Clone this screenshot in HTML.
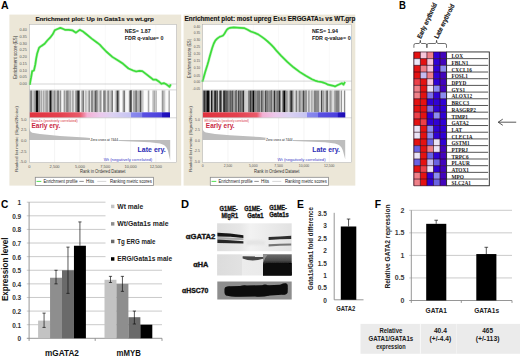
<!DOCTYPE html>
<html><head><meta charset="utf-8"><style>
html,body{margin:0;padding:0;background:#fff;}
body{width:520px;height:357px;overflow:hidden;font-family:"Liberation Sans",sans-serif;}
svg{display:block;}
</style></head><body>
<svg width="520" height="357" viewBox="0 0 520 357">
<rect x="0" y="0" width="520" height="357" fill="#fff"/>
<text x="0.9" y="8.9" font-family="Liberation Sans" font-size="10.5" font-weight="bold" fill="#000" text-anchor="start" textLength="7.6" lengthAdjust="spacingAndGlyphs" >A</text>
<text x="399.1" y="8.8" font-family="Liberation Sans" font-size="11.0" font-weight="bold" fill="#000" text-anchor="start" textLength="6.9" lengthAdjust="spacingAndGlyphs" >B</text>
<text x="0.9" y="208.0" font-family="Liberation Sans" font-size="11.4" font-weight="bold" fill="#000" text-anchor="start" textLength="7.3" lengthAdjust="spacingAndGlyphs" >C</text>
<text x="181.1" y="208.1" font-family="Liberation Sans" font-size="11.5" font-weight="bold" fill="#000" text-anchor="start" textLength="8.0" lengthAdjust="spacingAndGlyphs" >D</text>
<text x="297.0" y="207.7" font-family="Liberation Sans" font-size="10.6" font-weight="bold" fill="#000" text-anchor="start" textLength="6.9" lengthAdjust="spacingAndGlyphs" >E</text>
<text x="374.8" y="207.6" font-family="Liberation Sans" font-size="10.6" font-weight="bold" fill="#000" text-anchor="start" textLength="6.3" lengthAdjust="spacingAndGlyphs" >F</text>
<rect x="9.4" y="14.6" width="171.79999999999998" height="171.0" fill="#ece7d8" />
<text x="35.4" y="21.2" font-family="Liberation Sans" font-size="6.25" font-weight="bold" fill="#111" stroke="#111" stroke-width="0.12" textLength="118.4" lengthAdjust="spacingAndGlyphs">Enrichment plot: Up in Gata1s vs wt.grp</text>
<rect x="29.3" y="24.3" width="147.2" height="138.29999999999998" fill="#ffffff" />
<line x1="54.6" y1="24.3" x2="54.6" y2="89.5" stroke="#f3f3f3" stroke-width="0.6" />
<line x1="54.6" y1="117.8" x2="54.6" y2="162.6" stroke="#ededed" stroke-width="0.6" />
<line x1="80.0" y1="24.3" x2="80.0" y2="89.5" stroke="#f3f3f3" stroke-width="0.6" />
<line x1="80.0" y1="117.8" x2="80.0" y2="162.6" stroke="#ededed" stroke-width="0.6" />
<line x1="105.3" y1="24.3" x2="105.3" y2="89.5" stroke="#f3f3f3" stroke-width="0.6" />
<line x1="105.3" y1="117.8" x2="105.3" y2="162.6" stroke="#ededed" stroke-width="0.6" />
<line x1="130.6" y1="24.3" x2="130.6" y2="89.5" stroke="#f3f3f3" stroke-width="0.6" />
<line x1="130.6" y1="117.8" x2="130.6" y2="162.6" stroke="#ededed" stroke-width="0.6" />
<line x1="155.9" y1="24.3" x2="155.9" y2="89.5" stroke="#f3f3f3" stroke-width="0.6" />
<line x1="155.9" y1="117.8" x2="155.9" y2="162.6" stroke="#ededed" stroke-width="0.6" />
<line x1="29.3" y1="84.0" x2="176.5" y2="84.0" stroke="#bbbbbb" stroke-width="0.6" />
<text x="26.8" y="31.1" font-family="Liberation Sans" font-size="3.8" font-weight="normal" fill="#555" text-anchor="end" >0.40</text>
<text x="26.8" y="37.9" font-family="Liberation Sans" font-size="3.8" font-weight="normal" fill="#555" text-anchor="end" >0.35</text>
<text x="26.8" y="44.699999999999996" font-family="Liberation Sans" font-size="3.8" font-weight="normal" fill="#555" text-anchor="end" >0.30</text>
<text x="26.8" y="51.4" font-family="Liberation Sans" font-size="3.8" font-weight="normal" fill="#555" text-anchor="end" >0.25</text>
<text x="26.8" y="58.199999999999996" font-family="Liberation Sans" font-size="3.8" font-weight="normal" fill="#555" text-anchor="end" >0.20</text>
<text x="26.8" y="64.9" font-family="Liberation Sans" font-size="3.8" font-weight="normal" fill="#555" text-anchor="end" >0.15</text>
<text x="26.8" y="71.7" font-family="Liberation Sans" font-size="3.8" font-weight="normal" fill="#555" text-anchor="end" >0.10</text>
<text x="26.8" y="78.39999999999999" font-family="Liberation Sans" font-size="3.8" font-weight="normal" fill="#555" text-anchor="end" >0.05</text>
<text x="26.8" y="85.2" font-family="Liberation Sans" font-size="3.8" font-weight="normal" fill="#555" text-anchor="end" >0.00</text>
<line x1="29.3" y1="89.9" x2="176.5" y2="89.9" stroke="#b0b0b0" stroke-width="0.5" />
<rect x="29.39" y="90.5" width="0.75" height="21.799999999999997" fill="rgb(200,200,200)" />
<rect x="30.08" y="90.5" width="1.1" height="21.799999999999997" fill="rgb(130,130,130)" />
<rect x="31.12" y="90.5" width="1.1" height="21.799999999999997" fill="rgb(110,110,110)" />
<rect x="32.16" y="90.5" width="1.45" height="21.799999999999997" fill="rgb(200,200,200)" />
<rect x="33.54" y="90.5" width="1.45" height="21.799999999999997" fill="rgb(160,160,160)" />
<rect x="34.93" y="90.5" width="0.75" height="21.799999999999997" fill="rgb(200,200,200)" />
<rect x="35.62" y="90.5" width="2.48" height="21.799999999999997" fill="rgb(12,12,12)" />
<rect x="38.04" y="90.5" width="0.75" height="21.799999999999997" fill="rgb(120,120,120)" />
<rect x="38.73" y="90.5" width="1.1" height="21.799999999999997" fill="rgb(90,90,90)" />
<rect x="39.77" y="90.5" width="1.1" height="21.799999999999997" fill="rgb(200,200,200)" />
<rect x="40.81" y="90.5" width="1.1" height="21.799999999999997" fill="rgb(150,150,150)" />
<rect x="41.85" y="90.5" width="1.1" height="21.799999999999997" fill="rgb(220,220,220)" />
<rect x="42.89" y="90.5" width="1.45" height="21.799999999999997" fill="rgb(170,170,170)" />
<rect x="44.27" y="90.5" width="1.1" height="21.799999999999997" fill="rgb(190,190,190)" />
<rect x="45.31" y="90.5" width="1.45" height="21.799999999999997" fill="rgb(160,160,160)" />
<rect x="46.7" y="90.5" width="1.1" height="21.799999999999997" fill="rgb(110,110,110)" />
<rect x="47.74" y="90.5" width="1.1" height="21.799999999999997" fill="rgb(220,220,220)" />
<rect x="48.78" y="90.5" width="1.1" height="21.799999999999997" fill="rgb(130,130,130)" />
<rect x="49.81" y="90.5" width="1.79" height="21.799999999999997" fill="rgb(20,20,20)" />
<rect x="51.55" y="90.5" width="1.1" height="21.799999999999997" fill="rgb(100,100,100)" />
<rect x="52.58" y="90.5" width="1.1" height="21.799999999999997" fill="rgb(210,210,210)" />
<rect x="53.62" y="90.5" width="1.1" height="21.799999999999997" fill="rgb(100,100,100)" />
<rect x="54.66" y="90.5" width="1.1" height="21.799999999999997" fill="rgb(140,140,140)" />
<rect x="55.7" y="90.5" width="1.1" height="21.799999999999997" fill="rgb(210,210,210)" />
<rect x="56.74" y="90.5" width="1.1" height="21.799999999999997" fill="rgb(120,120,120)" />
<rect x="57.78" y="90.5" width="1.1" height="21.799999999999997" fill="rgb(90,90,90)" />
<rect x="58.82" y="90.5" width="1.1" height="21.799999999999997" fill="rgb(200,200,200)" />
<rect x="59.86" y="90.5" width="1.1" height="21.799999999999997" fill="rgb(130,130,130)" />
<rect x="60.89" y="90.5" width="1.1" height="21.799999999999997" fill="rgb(220,220,220)" />
<rect x="61.93" y="90.5" width="2.14" height="21.799999999999997" fill="rgb(245,245,245)" />
<rect x="63.73" y="90.5" width="1.1" height="21.799999999999997" fill="rgb(120,120,120)" />
<rect x="64.77" y="90.5" width="1.1" height="21.799999999999997" fill="rgb(200,200,200)" />
<rect x="65.81" y="90.5" width="1.45" height="21.799999999999997" fill="rgb(140,140,140)" />
<rect x="67.19" y="90.5" width="1.45" height="21.799999999999997" fill="rgb(110,110,110)" />
<rect x="68.58" y="90.5" width="1.1" height="21.799999999999997" fill="rgb(150,150,150)" />
<rect x="69.62" y="90.5" width="1.45" height="21.799999999999997" fill="rgb(170,170,170)" />
<rect x="71.0" y="90.5" width="1.1" height="21.799999999999997" fill="rgb(220,220,220)" />
<rect x="72.04" y="90.5" width="1.1" height="21.799999999999997" fill="rgb(170,170,170)" />
<rect x="73.08" y="90.5" width="1.1" height="21.799999999999997" fill="rgb(180,180,180)" />
<rect x="74.12" y="90.5" width="1.1" height="21.799999999999997" fill="rgb(230,230,230)" />
<rect x="75.16" y="90.5" width="1.1" height="21.799999999999997" fill="rgb(150,150,150)" />
<rect x="76.2" y="90.5" width="1.1" height="21.799999999999997" fill="rgb(120,120,120)" />
<rect x="77.24" y="90.5" width="2.14" height="21.799999999999997" fill="rgb(40,40,40)" />
<rect x="79.31" y="90.5" width="0.89" height="21.799999999999997" fill="rgb(90,90,90)" />
<rect x="80.14" y="90.5" width="1.31" height="21.799999999999997" fill="rgb(240,240,240)" />
<rect x="81.39" y="90.5" width="1.45" height="21.799999999999997" fill="rgb(150,150,150)" />
<rect x="82.78" y="90.5" width="1.45" height="21.799999999999997" fill="rgb(120,120,120)" />
<rect x="84.16" y="90.5" width="1.1" height="21.799999999999997" fill="rgb(230,230,230)" />
<rect x="85.2" y="90.5" width="0.75" height="21.799999999999997" fill="rgb(170,170,170)" />
<rect x="85.89" y="90.5" width="1.1" height="21.799999999999997" fill="rgb(200,200,200)" />
<rect x="86.93" y="90.5" width="1.45" height="21.799999999999997" fill="rgb(220,220,220)" />
<rect x="88.32" y="90.5" width="1.1" height="21.799999999999997" fill="rgb(150,150,150)" />
<rect x="89.35" y="90.5" width="1.1" height="21.799999999999997" fill="rgb(110,110,110)" />
<rect x="90.39" y="90.5" width="1.1" height="21.799999999999997" fill="rgb(240,240,240)" />
<rect x="91.43" y="90.5" width="1.1" height="21.799999999999997" fill="rgb(60,60,60)" />
<rect x="92.47" y="90.5" width="1.1" height="21.799999999999997" fill="rgb(130,130,130)" />
<rect x="93.51" y="90.5" width="1.1" height="21.799999999999997" fill="rgb(200,200,200)" />
<rect x="94.55" y="90.5" width="1.45" height="21.799999999999997" fill="rgb(90,90,90)" />
<rect x="95.93" y="90.5" width="1.1" height="21.799999999999997" fill="rgb(110,110,110)" />
<rect x="96.97" y="90.5" width="1.1" height="21.799999999999997" fill="rgb(170,170,170)" />
<rect x="96.0" y="90.5" width="1.1" height="21.799999999999997" fill="rgb(130,130,130)" />
<rect x="97.04" y="90.5" width="1.45" height="21.799999999999997" fill="rgb(160,160,160)" />
<rect x="98.42" y="90.5" width="1.1" height="21.799999999999997" fill="rgb(210,210,210)" />
<rect x="99.46" y="90.5" width="1.1" height="21.799999999999997" fill="rgb(150,150,150)" />
<rect x="100.5" y="90.5" width="1.1" height="21.799999999999997" fill="rgb(100,100,100)" />
<rect x="101.54" y="90.5" width="1.1" height="21.799999999999997" fill="rgb(230,230,230)" />
<rect x="102.58" y="90.5" width="0.75" height="21.799999999999997" fill="rgb(250,250,250)" />
<rect x="103.27" y="90.5" width="1.45" height="21.799999999999997" fill="rgb(110,110,110)" />
<rect x="104.66" y="90.5" width="1.1" height="21.799999999999997" fill="rgb(90,90,90)" />
<rect x="105.7" y="90.5" width="1.45" height="21.799999999999997" fill="rgb(220,220,220)" />
<rect x="107.08" y="90.5" width="1.1" height="21.799999999999997" fill="rgb(160,160,160)" />
<rect x="108.12" y="90.5" width="1.45" height="21.799999999999997" fill="rgb(130,130,130)" />
<rect x="109.5" y="90.5" width="1.1" height="21.799999999999997" fill="rgb(220,220,220)" />
<rect x="110.54" y="90.5" width="1.1" height="21.799999999999997" fill="rgb(150,150,150)" />
<rect x="111.58" y="90.5" width="1.45" height="21.799999999999997" fill="rgb(120,120,120)" />
<rect x="112.97" y="90.5" width="1.79" height="21.799999999999997" fill="rgb(245,245,245)" />
<rect x="114.7" y="90.5" width="1.1" height="21.799999999999997" fill="rgb(210,210,210)" />
<rect x="115.74" y="90.5" width="1.1" height="21.799999999999997" fill="rgb(160,160,160)" />
<rect x="116.78" y="90.5" width="1.45" height="21.799999999999997" fill="rgb(60,60,60)" />
<rect x="118.16" y="90.5" width="1.45" height="21.799999999999997" fill="rgb(110,110,110)" />
<rect x="119.55" y="90.5" width="3.18" height="21.799999999999997" fill="rgb(250,250,250)" />
<rect x="122.66" y="90.5" width="1.1" height="21.799999999999997" fill="rgb(140,140,140)" />
<rect x="123.7" y="90.5" width="1.45" height="21.799999999999997" fill="rgb(120,120,120)" />
<rect x="125.09" y="90.5" width="1.45" height="21.799999999999997" fill="rgb(230,230,230)" />
<rect x="126.47" y="90.5" width="1.45" height="21.799999999999997" fill="rgb(250,250,250)" />
<rect x="127.86" y="90.5" width="1.45" height="21.799999999999997" fill="rgb(230,230,230)" />
<rect x="129.24" y="90.5" width="1.45" height="21.799999999999997" fill="rgb(110,110,110)" />
<rect x="130.63" y="90.5" width="1.45" height="21.799999999999997" fill="rgb(60,60,60)" />
<rect x="130.0" y="90.5" width="1.33" height="21.799999999999997" fill="rgb(70,70,70)" />
<rect x="131.27" y="90.5" width="0.91" height="21.799999999999997" fill="rgb(120,120,120)" />
<rect x="132.12" y="90.5" width="0.91" height="21.799999999999997" fill="rgb(230,230,230)" />
<rect x="132.96" y="90.5" width="2.6" height="21.799999999999997" fill="rgb(170,170,170)" />
<rect x="135.5" y="90.5" width="1.33" height="21.799999999999997" fill="rgb(70,70,70)" />
<rect x="136.77" y="90.5" width="3.02" height="21.799999999999997" fill="rgb(180,180,180)" />
<rect x="139.73" y="90.5" width="1.33" height="21.799999999999997" fill="rgb(80,80,80)" />
<rect x="141.0" y="90.5" width="1.75" height="21.799999999999997" fill="rgb(170,170,170)" />
<rect x="142.69" y="90.5" width="1.33" height="21.799999999999997" fill="rgb(220,220,220)" />
<rect x="143.96" y="90.5" width="3.87" height="21.799999999999997" fill="rgb(252,252,252)" />
<rect x="147.77" y="90.5" width="1.33" height="21.799999999999997" fill="rgb(170,170,170)" />
<rect x="149.04" y="90.5" width="0.91" height="21.799999999999997" fill="rgb(220,220,220)" />
<rect x="149.88" y="90.5" width="2.6" height="21.799999999999997" fill="rgb(252,252,252)" />
<rect x="152.42" y="90.5" width="1.33" height="21.799999999999997" fill="rgb(180,180,180)" />
<rect x="153.69" y="90.5" width="1.75" height="21.799999999999997" fill="rgb(170,170,170)" />
<rect x="155.38" y="90.5" width="1.75" height="21.799999999999997" fill="rgb(190,190,190)" />
<rect x="157.07" y="90.5" width="4.71" height="21.799999999999997" fill="rgb(252,252,252)" />
<rect x="161.73" y="90.5" width="1.33" height="21.799999999999997" fill="rgb(150,150,150)" />
<rect x="162.99" y="90.5" width="1.75" height="21.799999999999997" fill="rgb(180,180,180)" />
<rect x="164.69" y="90.5" width="0.91" height="21.799999999999997" fill="rgb(200,200,200)" />
<rect x="165.53" y="90.5" width="3.02" height="21.799999999999997" fill="rgb(250,250,250)" />
<rect x="168.49" y="90.5" width="1.33" height="21.799999999999997" fill="rgb(160,160,160)" />
<defs><linearGradient id="g9" x1="0" x2="1" y1="0" y2="0"><stop offset="0" stop-color="#e0323e"/><stop offset="0.216" stop-color="#e4404e"/><stop offset="0.358" stop-color="#ea5a6a"/><stop offset="0.39" stop-color="#f08aa8"/><stop offset="0.41" stop-color="#f4b0d4"/><stop offset="0.5" stop-color="#ecc8ec"/><stop offset="0.59" stop-color="#dcd2f2"/><stop offset="0.72" stop-color="#c6c4f2"/><stop offset="0.725" stop-color="#8a88ee"/><stop offset="0.8" stop-color="#8080ea"/><stop offset="0.805" stop-color="#5a50e2"/><stop offset="0.94" stop-color="#4c40dc"/><stop offset="0.945" stop-color="#2414c2"/><stop offset="1" stop-color="#1c0cb4"/></linearGradient></defs>
<rect x="29.6" y="112.3" width="140.4" height="5.299999999999997" fill="url(#g9)" />
<line x1="29.3" y1="117.8" x2="176.5" y2="117.8" stroke="#b0b0b0" stroke-width="0.5" />
<path d="M29.8,84.8 L30.4,81.0 L31.1,77.5 L32.2,71.0 L33.2,70.8 L34.0,70.4 L35.3,64.5 L36.2,58.5 L37.2,53.4 L39.0,47.9 L40.4,46.6 L41.8,45.7 L44.6,43.8 L47.3,40.5 L50.1,37.7 L52.9,34.0 L54.7,30.3 L57.5,29.0 L60.3,27.9 L62.1,28.5 L64.9,29.8 L68.6,29.8 L72.3,30.3 L76.0,32.7 L79.7,29.8 L82.5,31.2 L86.1,34.0 L91.7,38.6 L97.2,42.7 L100.0,44.9 L103.0,48.2 L106.2,51.5 L112.3,56.9 L118.5,60.8 L123.1,63.8 L128.5,68.5 L133.1,70.5 L136.2,71.5 L139.2,70.8 L142.3,71.1 L146.2,74.2 L150.8,77.7 L153.1,79.7 L156.2,79.7 L159.2,81.8 L161.5,83.8 L163.8,83.1 L166.2,84.3 L167.7,85.4 L169.5,86.9 L170.8,84.3" fill="none" stroke="#b4f0b0" stroke-width="2.9" stroke-linejoin="round" opacity="0.7"/>
<path d="M29.8,84.8 L30.4,81.0 L31.1,77.5 L32.2,71.0 L33.2,70.8 L34.0,70.4 L35.3,64.5 L36.2,58.5 L37.2,53.4 L39.0,47.9 L40.4,46.6 L41.8,45.7 L44.6,43.8 L47.3,40.5 L50.1,37.7 L52.9,34.0 L54.7,30.3 L57.5,29.0 L60.3,27.9 L62.1,28.5 L64.9,29.8 L68.6,29.8 L72.3,30.3 L76.0,32.7 L79.7,29.8 L82.5,31.2 L86.1,34.0 L91.7,38.6 L97.2,42.7 L100.0,44.9 L103.0,48.2 L106.2,51.5 L112.3,56.9 L118.5,60.8 L123.1,63.8 L128.5,68.5 L133.1,70.5 L136.2,71.5 L139.2,70.8 L142.3,71.1 L146.2,74.2 L150.8,77.7 L153.1,79.7 L156.2,79.7 L159.2,81.8 L161.5,83.8 L163.8,83.1 L166.2,84.3 L167.7,85.4 L169.5,86.9 L170.8,84.3" fill="none" stroke="#3ddc3a" stroke-width="1.7" stroke-linejoin="round"/>
<text x="124.8" y="33.0" font-family="Liberation Sans" font-size="5.3" font-weight="bold" fill="#151515" text-anchor="start" textLength="26.0" lengthAdjust="spacingAndGlyphs" >NES= 1.87</text>
<text x="124.8" y="39.9" font-family="Liberation Sans" font-size="5.3" font-weight="bold" fill="#151515" text-anchor="start" textLength="38.6" lengthAdjust="spacingAndGlyphs" >FDR q-value= 0</text>
<path d="M29.3,127.6 C29.8,131 30.6,132.2 32.2,132.8 L40,134.1 L60,135.9 L85,137.4 L95,138.4 L104,139.9 L29.3,139.9 Z" fill="#bdbdbd"/>
<path d="M104,139.9 L120,141.0 L150,142.2 L160,143.6 C164,144.6 166.5,146 168,151 L170.2,160.3 L170.2,139.9 Z" fill="#bdbdbd"/>
<text x="31.1" y="121.7" font-family="Liberation Sans" font-size="3.5" font-weight="normal" fill="#d83040" text-anchor="start" textLength="46.5" lengthAdjust="spacingAndGlyphs" >Gata1s (positively correlated)</text>
<text x="31.5" y="128.0" font-family="Liberation Sans" font-size="7.4" font-weight="bold" fill="#c9283f" text-anchor="start" textLength="28.8" lengthAdjust="spacingAndGlyphs" >Early ery.</text>
<text x="137.6" y="152.2" font-family="Liberation Sans" font-size="7.4" font-weight="bold" fill="#2a2ab4" text-anchor="start" textLength="28.2" lengthAdjust="spacingAndGlyphs" >Late ery.</text>
<text x="103.8" y="160.8" font-family="Liberation Sans" font-size="3.5" font-weight="normal" fill="#3a3ac8" text-anchor="start" textLength="48.5" lengthAdjust="spacingAndGlyphs" >Wt (negatively correlated)</text>
<rect x="90.0" y="137.6" width="28.5" height="4.2" fill="#ffffff" />
<text x="90.5" y="141.1" font-family="Liberation Sans" font-size="3.4" font-weight="normal" fill="#222" text-anchor="start" textLength="27.5" lengthAdjust="spacingAndGlyphs" >Zero cross at 7444</text>
<text x="26.5" y="120.84" font-family="Liberation Sans" font-size="4.0" font-weight="normal" fill="#555" text-anchor="end" >5.0</text>
<text x="26.5" y="131.44" font-family="Liberation Sans" font-size="4.0" font-weight="normal" fill="#555" text-anchor="end" >2.5</text>
<text x="26.5" y="142.14" font-family="Liberation Sans" font-size="4.0" font-weight="normal" fill="#555" text-anchor="end" >0.0</text>
<text x="26.5" y="152.64" font-family="Liberation Sans" font-size="4.0" font-weight="normal" fill="#555" text-anchor="end" >-2.5</text>
<text x="26.5" y="162.94" font-family="Liberation Sans" font-size="4.0" font-weight="normal" fill="#555" text-anchor="end" >-5.0</text>
<text x="29.3" y="167.60000000000002" font-family="Liberation Sans" font-size="4.0" font-weight="normal" fill="#555" text-anchor="middle" >0</text>
<text x="54.6" y="167.60000000000002" font-family="Liberation Sans" font-size="4.0" font-weight="normal" fill="#555" text-anchor="middle" >2,500</text>
<text x="80.0" y="167.60000000000002" font-family="Liberation Sans" font-size="4.0" font-weight="normal" fill="#555" text-anchor="middle" >5,000</text>
<text x="105.3" y="167.60000000000002" font-family="Liberation Sans" font-size="4.0" font-weight="normal" fill="#555" text-anchor="middle" >7,500</text>
<text x="130.6" y="167.60000000000002" font-family="Liberation Sans" font-size="4.0" font-weight="normal" fill="#555" text-anchor="middle" >10,000</text>
<text x="155.9" y="167.60000000000002" font-family="Liberation Sans" font-size="4.0" font-weight="normal" fill="#555" text-anchor="middle" >12,500</text>
<text x="80.0" y="173.4" font-family="Liberation Sans" font-size="4.9" font-weight="normal" fill="#333" text-anchor="start" textLength="45.5" lengthAdjust="spacingAndGlyphs" >Rank in Ordered Dataset</text>
<text transform="translate(17.1,57.4) rotate(-90)" font-family="Liberation Sans" font-size="4.5" font-weight="normal" fill="#3a3a3a" text-anchor="middle" textLength="42.9" lengthAdjust="spacingAndGlyphs">Enrichment score (ES)</text>
<text transform="translate(18.0,139) rotate(-90)" font-family="Liberation Sans" font-size="4.3" font-weight="normal" fill="#444" text-anchor="middle" textLength="66" lengthAdjust="spacingAndGlyphs">Ranked list metric (Signal2Noise)</text>
<rect x="29.3" y="24.3" width="147.2" height="138.29999999999998" fill="none" stroke="#aaaaaa" stroke-width="0.5"/>
<rect x="35.3" y="177.3" width="118.2" height="8.099999999999994" fill="#ffffff" stroke="#8a8a8a" stroke-width="0.8"/>
<line x1="36.5" y1="181.4" x2="41.3" y2="181.4" stroke="#3ede3e" stroke-width="0.9" />
<text x="43.5" y="183.2" font-family="Liberation Sans" font-size="5.0" font-weight="normal" fill="#222" text-anchor="start" textLength="34" lengthAdjust="spacingAndGlyphs" >Enrichment profile</text>
<line x1="79.3" y1="181.4" x2="83.8" y2="181.4" stroke="#222" stroke-width="0.5" />
<text x="86.1" y="183.2" font-family="Liberation Sans" font-size="5.0" font-weight="normal" fill="#222" text-anchor="start" textLength="8" lengthAdjust="spacingAndGlyphs" >Hits</text>
<line x1="97.3" y1="181.4" x2="106.3" y2="181.4" stroke="#d0d0d0" stroke-width="0.9" />
<text x="109.89999999999999" y="183.2" font-family="Liberation Sans" font-size="5.0" font-weight="normal" fill="#222" text-anchor="start" textLength="41.9" lengthAdjust="spacingAndGlyphs" >Ranking metric scores</text>
<rect x="183.6" y="14.6" width="171.70000000000002" height="171.0" fill="#ece7d8" />
<text x="184.6" y="20.65" font-family="Liberation Sans" font-size="6.6" font-weight="bold" fill="#111" stroke="#111" stroke-width="0.12" textLength="170.8" lengthAdjust="spacingAndGlyphs">Enrichment plot: most upreg E<tspan font-size="4.6">14.5</tspan> ERGGATA<tspan font-size="4.6">1s</tspan> vs WT.grp</text>
<rect x="202.6" y="24.3" width="149.00000000000003" height="138.29999999999998" fill="#ffffff" />
<line x1="228.0" y1="24.3" x2="228.0" y2="89.5" stroke="#f3f3f3" stroke-width="0.6" />
<line x1="228.0" y1="117.8" x2="228.0" y2="162.6" stroke="#ededed" stroke-width="0.6" />
<line x1="253.3" y1="24.3" x2="253.3" y2="89.5" stroke="#f3f3f3" stroke-width="0.6" />
<line x1="253.3" y1="117.8" x2="253.3" y2="162.6" stroke="#ededed" stroke-width="0.6" />
<line x1="278.6" y1="24.3" x2="278.6" y2="89.5" stroke="#f3f3f3" stroke-width="0.6" />
<line x1="278.6" y1="117.8" x2="278.6" y2="162.6" stroke="#ededed" stroke-width="0.6" />
<line x1="304.0" y1="24.3" x2="304.0" y2="89.5" stroke="#f3f3f3" stroke-width="0.6" />
<line x1="304.0" y1="117.8" x2="304.0" y2="162.6" stroke="#ededed" stroke-width="0.6" />
<line x1="329.3" y1="24.3" x2="329.3" y2="89.5" stroke="#f3f3f3" stroke-width="0.6" />
<line x1="329.3" y1="117.8" x2="329.3" y2="162.6" stroke="#ededed" stroke-width="0.6" />
<line x1="202.6" y1="81.1" x2="351.6" y2="81.1" stroke="#bbbbbb" stroke-width="0.6" />
<text x="200.1" y="27.6" font-family="Liberation Sans" font-size="3.3" font-weight="normal" fill="#555" text-anchor="end" >0.40</text>
<text x="200.1" y="34.3" font-family="Liberation Sans" font-size="3.3" font-weight="normal" fill="#555" text-anchor="end" >0.35</text>
<text x="200.1" y="41.3" font-family="Liberation Sans" font-size="3.3" font-weight="normal" fill="#555" text-anchor="end" >0.30</text>
<text x="200.1" y="48.3" font-family="Liberation Sans" font-size="3.3" font-weight="normal" fill="#555" text-anchor="end" >0.25</text>
<text x="200.1" y="55.0" font-family="Liberation Sans" font-size="3.3" font-weight="normal" fill="#555" text-anchor="end" >0.20</text>
<text x="200.1" y="62.3" font-family="Liberation Sans" font-size="3.3" font-weight="normal" fill="#555" text-anchor="end" >0.15</text>
<text x="200.1" y="69.3" font-family="Liberation Sans" font-size="3.3" font-weight="normal" fill="#555" text-anchor="end" >0.10</text>
<text x="200.1" y="76.5" font-family="Liberation Sans" font-size="3.3" font-weight="normal" fill="#555" text-anchor="end" >0.05</text>
<text x="200.1" y="83.39999999999999" font-family="Liberation Sans" font-size="3.3" font-weight="normal" fill="#555" text-anchor="end" >0.00</text>
<text x="200.1" y="89.7" font-family="Liberation Sans" font-size="3.3" font-weight="normal" fill="#555" text-anchor="end" >-0.05</text>
<line x1="202.6" y1="89.9" x2="351.6" y2="89.9" stroke="#b0b0b0" stroke-width="0.5" />
<rect x="202.73" y="90.5" width="1.1" height="21.799999999999997" fill="rgb(90,90,90)" />
<rect x="203.77" y="90.5" width="1.45" height="21.799999999999997" fill="rgb(50,50,50)" />
<rect x="205.16" y="90.5" width="1.79" height="21.799999999999997" fill="rgb(80,80,80)" />
<rect x="206.89" y="90.5" width="2.14" height="21.799999999999997" fill="rgb(10,10,10)" />
<rect x="208.96" y="90.5" width="1.1" height="21.799999999999997" fill="rgb(110,110,110)" />
<rect x="210.0" y="90.5" width="1.1" height="21.799999999999997" fill="rgb(200,200,200)" />
<rect x="211.04" y="90.5" width="1.45" height="21.799999999999997" fill="rgb(20,20,20)" />
<rect x="212.43" y="90.5" width="1.1" height="21.799999999999997" fill="rgb(100,100,100)" />
<rect x="213.47" y="90.5" width="0.75" height="21.799999999999997" fill="rgb(180,180,180)" />
<rect x="214.16" y="90.5" width="2.14" height="21.799999999999997" fill="rgb(40,40,40)" />
<rect x="216.24" y="90.5" width="1.79" height="21.799999999999997" fill="rgb(80,80,80)" />
<rect x="217.97" y="90.5" width="1.1" height="21.799999999999997" fill="rgb(210,210,210)" />
<rect x="219.01" y="90.5" width="1.1" height="21.799999999999997" fill="rgb(100,100,100)" />
<rect x="220.04" y="90.5" width="1.1" height="21.799999999999997" fill="rgb(40,40,40)" />
<rect x="221.08" y="90.5" width="1.1" height="21.799999999999997" fill="rgb(100,100,100)" />
<rect x="222.12" y="90.5" width="1.1" height="21.799999999999997" fill="rgb(200,200,200)" />
<rect x="223.16" y="90.5" width="1.1" height="21.799999999999997" fill="rgb(40,40,40)" />
<rect x="224.2" y="90.5" width="1.45" height="21.799999999999997" fill="rgb(10,10,10)" />
<rect x="225.58" y="90.5" width="1.45" height="21.799999999999997" fill="rgb(90,90,90)" />
<rect x="226.97" y="90.5" width="1.79" height="21.799999999999997" fill="rgb(100,100,100)" />
<rect x="228.7" y="90.5" width="1.1" height="21.799999999999997" fill="rgb(130,130,130)" />
<rect x="229.74" y="90.5" width="1.1" height="21.799999999999997" fill="rgb(60,60,60)" />
<rect x="230.78" y="90.5" width="1.45" height="21.799999999999997" fill="rgb(120,120,120)" />
<rect x="232.16" y="90.5" width="1.45" height="21.799999999999997" fill="rgb(60,60,60)" />
<rect x="233.55" y="90.5" width="1.1" height="21.799999999999997" fill="rgb(180,180,180)" />
<rect x="234.59" y="90.5" width="1.1" height="21.799999999999997" fill="rgb(100,100,100)" />
<rect x="235.63" y="90.5" width="1.45" height="21.799999999999997" fill="rgb(50,50,50)" />
<rect x="236.0" y="90.5" width="1.1" height="21.799999999999997" fill="rgb(110,110,110)" />
<rect x="237.04" y="90.5" width="1.1" height="21.799999999999997" fill="rgb(170,170,170)" />
<rect x="238.08" y="90.5" width="1.45" height="21.799999999999997" fill="rgb(60,60,60)" />
<rect x="239.46" y="90.5" width="1.79" height="21.799999999999997" fill="rgb(100,100,100)" />
<rect x="241.19" y="90.5" width="1.79" height="21.799999999999997" fill="rgb(110,110,110)" />
<rect x="242.93" y="90.5" width="1.45" height="21.799999999999997" fill="rgb(50,50,50)" />
<rect x="244.31" y="90.5" width="1.45" height="21.799999999999997" fill="rgb(190,190,190)" />
<rect x="245.7" y="90.5" width="2.48" height="21.799999999999997" fill="rgb(210,210,210)" />
<rect x="248.12" y="90.5" width="1.79" height="21.799999999999997" fill="rgb(120,120,120)" />
<rect x="249.85" y="90.5" width="1.45" height="21.799999999999997" fill="rgb(60,60,60)" />
<rect x="251.24" y="90.5" width="1.45" height="21.799999999999997" fill="rgb(90,90,90)" />
<rect x="252.62" y="90.5" width="1.79" height="21.799999999999997" fill="rgb(10,10,10)" />
<rect x="254.35" y="90.5" width="1.45" height="21.799999999999997" fill="rgb(110,110,110)" />
<rect x="255.74" y="90.5" width="1.1" height="21.799999999999997" fill="rgb(140,140,140)" />
<rect x="256.78" y="90.5" width="1.45" height="21.799999999999997" fill="rgb(120,120,120)" />
<rect x="258.16" y="90.5" width="1.79" height="21.799999999999997" fill="rgb(100,100,100)" />
<rect x="259.89" y="90.5" width="1.1" height="21.799999999999997" fill="rgb(180,180,180)" />
<rect x="260.93" y="90.5" width="1.79" height="21.799999999999997" fill="rgb(90,90,90)" />
<rect x="262.66" y="90.5" width="1.1" height="21.799999999999997" fill="rgb(120,120,120)" />
<rect x="263.7" y="90.5" width="1.45" height="21.799999999999997" fill="rgb(180,180,180)" />
<rect x="265.09" y="90.5" width="1.45" height="21.799999999999997" fill="rgb(60,60,60)" />
<rect x="266.47" y="90.5" width="1.45" height="21.799999999999997" fill="rgb(110,110,110)" />
<rect x="267.86" y="90.5" width="1.45" height="21.799999999999997" fill="rgb(150,150,150)" />
<rect x="269.24" y="90.5" width="1.45" height="21.799999999999997" fill="rgb(120,120,120)" />
<rect x="270.63" y="90.5" width="1.45" height="21.799999999999997" fill="rgb(90,90,90)" />
<rect x="271.0" y="90.5" width="1.45" height="21.799999999999997" fill="rgb(110,110,110)" />
<rect x="272.39" y="90.5" width="1.45" height="21.799999999999997" fill="rgb(170,170,170)" />
<rect x="273.77" y="90.5" width="1.45" height="21.799999999999997" fill="rgb(50,50,50)" />
<rect x="275.16" y="90.5" width="1.79" height="21.799999999999997" fill="rgb(140,140,140)" />
<rect x="276.89" y="90.5" width="1.79" height="21.799999999999997" fill="rgb(120,120,120)" />
<rect x="278.62" y="90.5" width="1.45" height="21.799999999999997" fill="rgb(50,50,50)" />
<rect x="280.0" y="90.5" width="1.45" height="21.799999999999997" fill="rgb(140,140,140)" />
<rect x="281.39" y="90.5" width="1.1" height="21.799999999999997" fill="rgb(220,220,220)" />
<rect x="282.43" y="90.5" width="1.45" height="21.799999999999997" fill="rgb(60,60,60)" />
<rect x="283.81" y="90.5" width="1.79" height="21.799999999999997" fill="rgb(5,5,5)" />
<rect x="285.54" y="90.5" width="1.45" height="21.799999999999997" fill="rgb(150,150,150)" />
<rect x="286.93" y="90.5" width="1.45" height="21.799999999999997" fill="rgb(170,170,170)" />
<rect x="288.31" y="90.5" width="1.45" height="21.799999999999997" fill="rgb(200,200,200)" />
<rect x="289.7" y="90.5" width="1.1" height="21.799999999999997" fill="rgb(70,70,70)" />
<rect x="290.74" y="90.5" width="1.45" height="21.799999999999997" fill="rgb(50,50,50)" />
<rect x="292.12" y="90.5" width="1.45" height="21.799999999999997" fill="rgb(110,110,110)" />
<rect x="293.51" y="90.5" width="1.1" height="21.799999999999997" fill="rgb(190,190,190)" />
<rect x="294.55" y="90.5" width="1.1" height="21.799999999999997" fill="rgb(220,220,220)" />
<rect x="295.58" y="90.5" width="1.45" height="21.799999999999997" fill="rgb(120,120,120)" />
<rect x="296.97" y="90.5" width="1.79" height="21.799999999999997" fill="rgb(200,200,200)" />
<rect x="298.7" y="90.5" width="1.45" height="21.799999999999997" fill="rgb(130,130,130)" />
<rect x="300.09" y="90.5" width="1.45" height="21.799999999999997" fill="rgb(150,150,150)" />
<rect x="301.47" y="90.5" width="1.45" height="21.799999999999997" fill="rgb(170,170,170)" />
<rect x="302.86" y="90.5" width="1.1" height="21.799999999999997" fill="rgb(60,60,60)" />
<rect x="303.89" y="90.5" width="1.1" height="21.799999999999997" fill="rgb(140,140,140)" />
<rect x="304.93" y="90.5" width="2.14" height="21.799999999999997" fill="rgb(180,180,180)" />
<rect x="305.0" y="90.5" width="2.18" height="21.799999999999997" fill="rgb(150,150,150)" />
<rect x="307.12" y="90.5" width="1.33" height="21.799999999999997" fill="rgb(220,220,220)" />
<rect x="308.38" y="90.5" width="1.33" height="21.799999999999997" fill="rgb(120,120,120)" />
<rect x="309.65" y="90.5" width="1.75" height="21.799999999999997" fill="rgb(220,220,220)" />
<rect x="311.35" y="90.5" width="1.33" height="21.799999999999997" fill="rgb(140,140,140)" />
<rect x="312.61" y="90.5" width="1.33" height="21.799999999999997" fill="rgb(210,210,210)" />
<rect x="313.88" y="90.5" width="2.18" height="21.799999999999997" fill="rgb(130,130,130)" />
<rect x="316.0" y="90.5" width="3.44" height="21.799999999999997" fill="rgb(140,140,140)" />
<rect x="319.38" y="90.5" width="1.75" height="21.799999999999997" fill="rgb(210,210,210)" />
<rect x="321.07" y="90.5" width="1.33" height="21.799999999999997" fill="rgb(60,60,60)" />
<rect x="322.34" y="90.5" width="1.75" height="21.799999999999997" fill="rgb(160,160,160)" />
<rect x="324.04" y="90.5" width="1.75" height="21.799999999999997" fill="rgb(200,200,200)" />
<rect x="325.73" y="90.5" width="1.33" height="21.799999999999997" fill="rgb(120,120,120)" />
<rect x="327.0" y="90.5" width="1.33" height="21.799999999999997" fill="rgb(100,100,100)" />
<rect x="328.27" y="90.5" width="1.33" height="21.799999999999997" fill="rgb(220,220,220)" />
<rect x="329.53" y="90.5" width="1.33" height="21.799999999999997" fill="rgb(130,130,130)" />
<rect x="330.8" y="90.5" width="1.75" height="21.799999999999997" fill="rgb(180,180,180)" />
<rect x="332.5" y="90.5" width="1.75" height="21.799999999999997" fill="rgb(220,220,220)" />
<rect x="334.19" y="90.5" width="1.75" height="21.799999999999997" fill="rgb(150,150,150)" />
<rect x="335.88" y="90.5" width="3.87" height="21.799999999999997" fill="rgb(130,130,130)" />
<rect x="339.69" y="90.5" width="1.33" height="21.799999999999997" fill="rgb(220,220,220)" />
<rect x="340.96" y="90.5" width="1.33" height="21.799999999999997" fill="rgb(150,150,150)" />
<rect x="342.23" y="90.5" width="1.75" height="21.799999999999997" fill="rgb(250,250,250)" />
<rect x="343.92" y="90.5" width="1.33" height="21.799999999999997" fill="rgb(140,140,140)" />
<defs><linearGradient id="g183" x1="0" x2="1" y1="0" y2="0"><stop offset="0" stop-color="#e0323e"/><stop offset="0.24" stop-color="#e4404e"/><stop offset="0.38" stop-color="#ea5a6a"/><stop offset="0.4" stop-color="#f08aa8"/><stop offset="0.42" stop-color="#f4b0d4"/><stop offset="0.51" stop-color="#ecc8ec"/><stop offset="0.6" stop-color="#dcd2f2"/><stop offset="0.728" stop-color="#c6c4f2"/><stop offset="0.733" stop-color="#8a88ee"/><stop offset="0.805" stop-color="#8080ea"/><stop offset="0.81" stop-color="#5a50e2"/><stop offset="0.944" stop-color="#4c40dc"/><stop offset="0.95" stop-color="#2414c2"/><stop offset="1" stop-color="#1c0cb4"/></linearGradient></defs>
<rect x="202.8" y="112.3" width="142.5" height="5.299999999999997" fill="url(#g183)" />
<line x1="202.6" y1="117.8" x2="351.6" y2="117.8" stroke="#b0b0b0" stroke-width="0.5" />
<path d="M202.3,81.8 L203.2,79.0 L204.2,75.5 L205.2,72.0 L206.3,68.5 L207.4,65.0 L208.5,61.2 L209.6,57.0 L210.8,52.8 L212.2,48.0 L213.8,43.5 L215.3,40.6 L216.9,38.9 L218.5,37.6 L220.0,36.6 L221.5,36.2 L223.1,35.5 L224.6,33.5 L225.8,31.4 L226.9,29.7 L228.4,28.5 L230.0,27.8 L233.8,27.4 L237.0,27.6 L240.0,27.8 L244.6,28.2 L247.7,29.7 L250.8,31.5 L253.8,32.5 L256.0,33.4 L258.5,34.6 L261.5,36.6 L264.6,38.9 L267.7,41.5 L270.8,44.3 L273.9,47.6 L276.9,51.2 L281.2,55.8 L287.3,61.9 L293.5,67.3 L299.6,71.9 L305.8,75.8 L311.9,79.2 L315.0,80.6 L318.1,81.5 L320.5,81.8 L322.7,82.4 L325.8,83.5 L328.1,84.7 L331.2,85.3 L333.5,85.8 L335.0,86.5 L337.3,85.3 L339.6,84.2 L341.9,83.2 L343.5,84.7 L345.0,81.9" fill="none" stroke="#b4f0b0" stroke-width="2.9" stroke-linejoin="round" opacity="0.7"/>
<path d="M202.3,81.8 L203.2,79.0 L204.2,75.5 L205.2,72.0 L206.3,68.5 L207.4,65.0 L208.5,61.2 L209.6,57.0 L210.8,52.8 L212.2,48.0 L213.8,43.5 L215.3,40.6 L216.9,38.9 L218.5,37.6 L220.0,36.6 L221.5,36.2 L223.1,35.5 L224.6,33.5 L225.8,31.4 L226.9,29.7 L228.4,28.5 L230.0,27.8 L233.8,27.4 L237.0,27.6 L240.0,27.8 L244.6,28.2 L247.7,29.7 L250.8,31.5 L253.8,32.5 L256.0,33.4 L258.5,34.6 L261.5,36.6 L264.6,38.9 L267.7,41.5 L270.8,44.3 L273.9,47.6 L276.9,51.2 L281.2,55.8 L287.3,61.9 L293.5,67.3 L299.6,71.9 L305.8,75.8 L311.9,79.2 L315.0,80.6 L318.1,81.5 L320.5,81.8 L322.7,82.4 L325.8,83.5 L328.1,84.7 L331.2,85.3 L333.5,85.8 L335.0,86.5 L337.3,85.3 L339.6,84.2 L341.9,83.2 L343.5,84.7 L345.0,81.9" fill="none" stroke="#3ddc3a" stroke-width="1.7" stroke-linejoin="round"/>
<text x="312.0" y="33.0" font-family="Liberation Sans" font-size="5.3" font-weight="bold" fill="#151515" text-anchor="start" textLength="26.0" lengthAdjust="spacingAndGlyphs" >NES= 1.94</text>
<text x="312.0" y="39.9" font-family="Liberation Sans" font-size="5.3" font-weight="bold" fill="#151515" text-anchor="start" textLength="38.6" lengthAdjust="spacingAndGlyphs" >FDR q-value= 0</text>
<path d="M202.6,128.8 C203.2,131 204.2,132 206,132.4 L215,134.1 L230,135.3 L260,137.0 L270,138.3 L280,139.9 L202.6,139.9 Z" fill="#bdbdbd"/>
<path d="M280,139.9 L293,140.9 L325,142.2 L335,143.6 C339,144.6 341.5,146 343,151 L345.2,159.3 L345.2,139.9 Z" fill="#bdbdbd"/>
<text x="204.4" y="121.7" font-family="Liberation Sans" font-size="3.5" font-weight="normal" fill="#d83040" text-anchor="start" textLength="44.5" lengthAdjust="spacingAndGlyphs" >ERG/Gata1s (positively correlated)</text>
<text x="205.8" y="128.0" font-family="Liberation Sans" font-size="7.4" font-weight="bold" fill="#c9283f" text-anchor="start" textLength="28.8" lengthAdjust="spacingAndGlyphs" >Early ery.</text>
<text x="312.3" y="152.2" font-family="Liberation Sans" font-size="7.4" font-weight="bold" fill="#2a2ab4" text-anchor="start" textLength="27.7" lengthAdjust="spacingAndGlyphs" >Late ery.</text>
<text x="277.6" y="160.8" font-family="Liberation Sans" font-size="3.5" font-weight="normal" fill="#3a3ac8" text-anchor="start" textLength="48.0" lengthAdjust="spacingAndGlyphs" >Wt (negatively correlated)</text>
<rect x="265.5" y="137.6" width="27.5" height="4.2" fill="#ffffff" />
<text x="266.0" y="141.1" font-family="Liberation Sans" font-size="3.4" font-weight="normal" fill="#222" text-anchor="start" textLength="26.5" lengthAdjust="spacingAndGlyphs" >Zero cross at 7444</text>
<text x="199.79999999999998" y="120.62400000000001" font-family="Liberation Sans" font-size="3.4" font-weight="normal" fill="#555" text-anchor="end" >5.0</text>
<text x="199.79999999999998" y="131.224" font-family="Liberation Sans" font-size="3.4" font-weight="normal" fill="#555" text-anchor="end" >2.5</text>
<text x="199.79999999999998" y="141.92399999999998" font-family="Liberation Sans" font-size="3.4" font-weight="normal" fill="#555" text-anchor="end" >0.0</text>
<text x="199.79999999999998" y="152.42399999999998" font-family="Liberation Sans" font-size="3.4" font-weight="normal" fill="#555" text-anchor="end" >-2.5</text>
<text x="199.79999999999998" y="162.724" font-family="Liberation Sans" font-size="3.4" font-weight="normal" fill="#555" text-anchor="end" >-5.0</text>
<text x="202.6" y="167.33" font-family="Liberation Sans" font-size="3.4" font-weight="normal" fill="#555" text-anchor="middle" >0</text>
<text x="228.0" y="167.33" font-family="Liberation Sans" font-size="3.4" font-weight="normal" fill="#555" text-anchor="middle" >2,500</text>
<text x="253.3" y="167.33" font-family="Liberation Sans" font-size="3.4" font-weight="normal" fill="#555" text-anchor="middle" >5,000</text>
<text x="278.6" y="167.33" font-family="Liberation Sans" font-size="3.4" font-weight="normal" fill="#555" text-anchor="middle" >7,500</text>
<text x="304.0" y="167.33" font-family="Liberation Sans" font-size="3.4" font-weight="normal" fill="#555" text-anchor="middle" >10,000</text>
<text x="329.3" y="167.33" font-family="Liberation Sans" font-size="3.4" font-weight="normal" fill="#555" text-anchor="middle" >12,500</text>
<text x="254.0" y="173.4" font-family="Liberation Sans" font-size="4.9" font-weight="normal" fill="#333" text-anchor="start" textLength="45.5" lengthAdjust="spacingAndGlyphs" >Rank in Ordered Dataset</text>
<text transform="translate(191.1,58.5) rotate(-90)" font-family="Liberation Sans" font-size="4.5" font-weight="normal" fill="#3a3a3a" text-anchor="middle" textLength="38.9" lengthAdjust="spacingAndGlyphs">Enrichment score (ES)</text>
<text transform="translate(192.0,139) rotate(-90)" font-family="Liberation Sans" font-size="4.3" font-weight="normal" fill="#444" text-anchor="middle" textLength="66" lengthAdjust="spacingAndGlyphs">Ranked list metric (Signal2Noise)</text>
<rect x="202.6" y="24.3" width="149.00000000000003" height="138.29999999999998" fill="none" stroke="#aaaaaa" stroke-width="0.5"/>
<rect x="210.3" y="177.3" width="118.2" height="8.099999999999994" fill="#ffffff" stroke="#8a8a8a" stroke-width="0.8"/>
<line x1="211.5" y1="181.4" x2="216.3" y2="181.4" stroke="#3ede3e" stroke-width="0.9" />
<text x="218.5" y="183.2" font-family="Liberation Sans" font-size="5.0" font-weight="normal" fill="#222" text-anchor="start" textLength="34" lengthAdjust="spacingAndGlyphs" >Enrichment profile</text>
<line x1="254.3" y1="181.4" x2="258.8" y2="181.4" stroke="#222" stroke-width="0.5" />
<text x="261.1" y="183.2" font-family="Liberation Sans" font-size="5.0" font-weight="normal" fill="#222" text-anchor="start" textLength="8" lengthAdjust="spacingAndGlyphs" >Hits</text>
<line x1="272.3" y1="181.4" x2="281.3" y2="181.4" stroke="#d0d0d0" stroke-width="0.9" />
<text x="284.9" y="183.2" font-family="Liberation Sans" font-size="5.0" font-weight="normal" fill="#222" text-anchor="start" textLength="41.9" lengthAdjust="spacingAndGlyphs" >Ranking metric scores</text>
<rect x="413.8" y="51.95" width="6.609999999999999" height="6.74" fill="#e41212" />
<rect x="420.36" y="51.95" width="6.609999999999999" height="6.74" fill="#f6c6da" />
<rect x="426.92" y="51.95" width="6.609999999999999" height="6.74" fill="#ef8088" />
<rect x="433.48" y="51.95" width="6.609999999999999" height="6.74" fill="#3002d4" />
<rect x="440.04" y="51.95" width="6.609999999999999" height="6.74" fill="#4204bc" />
<rect x="413.8" y="58.64" width="6.609999999999999" height="6.74" fill="#ebe4f6" />
<rect x="420.36" y="58.64" width="6.609999999999999" height="6.74" fill="#e41212" />
<rect x="426.92" y="58.64" width="6.609999999999999" height="6.74" fill="#f6c6da" />
<rect x="433.48" y="58.64" width="6.609999999999999" height="6.74" fill="#3002d4" />
<rect x="440.04" y="58.64" width="6.609999999999999" height="6.74" fill="#4204bc" />
<rect x="413.8" y="65.33" width="6.609999999999999" height="6.74" fill="#e41212" />
<rect x="420.36" y="65.33" width="6.609999999999999" height="6.74" fill="#ef8088" />
<rect x="426.92" y="65.33" width="6.609999999999999" height="6.74" fill="#f6c6da" />
<rect x="433.48" y="65.33" width="6.609999999999999" height="6.74" fill="#3002d4" />
<rect x="440.04" y="65.33" width="6.609999999999999" height="6.74" fill="#8c8cf0" />
<rect x="413.8" y="72.02" width="6.609999999999999" height="6.74" fill="#e41212" />
<rect x="420.36" y="72.02" width="6.609999999999999" height="6.74" fill="#c4bcf0" />
<rect x="426.92" y="72.02" width="6.609999999999999" height="6.74" fill="#ef8088" />
<rect x="433.48" y="72.02" width="6.609999999999999" height="6.74" fill="#3002d4" />
<rect x="440.04" y="72.02" width="6.609999999999999" height="6.74" fill="#4204bc" />
<rect x="413.8" y="78.71" width="6.609999999999999" height="6.74" fill="#ec4048" />
<rect x="420.36" y="78.71" width="6.609999999999999" height="6.74" fill="#e41212" />
<rect x="426.92" y="78.71" width="6.609999999999999" height="6.74" fill="#f6c6da" />
<rect x="433.48" y="78.71" width="6.609999999999999" height="6.74" fill="#3002d4" />
<rect x="440.04" y="78.71" width="6.609999999999999" height="6.74" fill="#4204bc" />
<rect x="413.8" y="85.4" width="6.609999999999999" height="6.74" fill="#ef8088" />
<rect x="420.36" y="85.4" width="6.609999999999999" height="6.74" fill="#e41212" />
<rect x="426.92" y="85.4" width="6.609999999999999" height="6.74" fill="#ebe4f6" />
<rect x="433.48" y="85.4" width="6.609999999999999" height="6.74" fill="#8c8cf0" />
<rect x="440.04" y="85.4" width="6.609999999999999" height="6.74" fill="#4204bc" />
<rect x="413.8" y="92.09" width="6.609999999999999" height="6.74" fill="#ef8088" />
<rect x="420.36" y="92.09" width="6.609999999999999" height="6.74" fill="#e41212" />
<rect x="426.92" y="92.09" width="6.609999999999999" height="6.74" fill="#7e70e6" />
<rect x="433.48" y="92.09" width="6.609999999999999" height="6.74" fill="#3002d4" />
<rect x="440.04" y="92.09" width="6.609999999999999" height="6.74" fill="#8c8cf0" />
<rect x="413.8" y="98.78" width="6.609999999999999" height="6.74" fill="#e41212" />
<rect x="420.36" y="98.78" width="6.609999999999999" height="6.74" fill="#e41212" />
<rect x="426.92" y="98.78" width="6.609999999999999" height="6.74" fill="#3002d4" />
<rect x="433.48" y="98.78" width="6.609999999999999" height="6.74" fill="#3002d4" />
<rect x="440.04" y="98.78" width="6.609999999999999" height="6.74" fill="#3002d4" />
<rect x="413.8" y="105.47" width="6.609999999999999" height="6.74" fill="#e41212" />
<rect x="420.36" y="105.47" width="6.609999999999999" height="6.74" fill="#e41212" />
<rect x="426.92" y="105.47" width="6.609999999999999" height="6.74" fill="#7e70e6" />
<rect x="433.48" y="105.47" width="6.609999999999999" height="6.74" fill="#3002d4" />
<rect x="440.04" y="105.47" width="6.609999999999999" height="6.74" fill="#3002d4" />
<rect x="413.8" y="112.16" width="6.609999999999999" height="6.74" fill="#ec4048" />
<rect x="420.36" y="112.16" width="6.609999999999999" height="6.74" fill="#e41212" />
<rect x="426.92" y="112.16" width="6.609999999999999" height="6.74" fill="#3002d4" />
<rect x="433.48" y="112.16" width="6.609999999999999" height="6.74" fill="#8c8cf0" />
<rect x="440.04" y="112.16" width="6.609999999999999" height="6.74" fill="#3002d4" />
<rect x="413.8" y="118.85" width="6.609999999999999" height="6.74" fill="#e41212" />
<rect x="420.36" y="118.85" width="6.609999999999999" height="6.74" fill="#ec4048" />
<rect x="426.92" y="118.85" width="6.609999999999999" height="6.74" fill="#3002d4" />
<rect x="433.48" y="118.85" width="6.609999999999999" height="6.74" fill="#3002d4" />
<rect x="440.04" y="118.85" width="6.609999999999999" height="6.74" fill="#3002d4" />
<rect x="413.8" y="125.54" width="6.609999999999999" height="6.74" fill="#ebe4f6" />
<rect x="420.36" y="125.54" width="6.609999999999999" height="6.74" fill="#e41212" />
<rect x="426.92" y="125.54" width="6.609999999999999" height="6.74" fill="#8c8cf0" />
<rect x="433.48" y="125.54" width="6.609999999999999" height="6.74" fill="#3002d4" />
<rect x="440.04" y="125.54" width="6.609999999999999" height="6.74" fill="#3002d4" />
<rect x="413.8" y="132.23" width="6.609999999999999" height="6.74" fill="#ebe4f6" />
<rect x="420.36" y="132.23" width="6.609999999999999" height="6.74" fill="#e41212" />
<rect x="426.92" y="132.23" width="6.609999999999999" height="6.74" fill="#8c8cf0" />
<rect x="433.48" y="132.23" width="6.609999999999999" height="6.74" fill="#3002d4" />
<rect x="440.04" y="132.23" width="6.609999999999999" height="6.74" fill="#3002d4" />
<rect x="413.8" y="138.92" width="6.609999999999999" height="6.74" fill="#e41212" />
<rect x="420.36" y="138.92" width="6.609999999999999" height="6.74" fill="#e41212" />
<rect x="426.92" y="138.92" width="6.609999999999999" height="6.74" fill="#6a62e2" />
<rect x="433.48" y="138.92" width="6.609999999999999" height="6.74" fill="#ebe4f6" />
<rect x="440.04" y="138.92" width="6.609999999999999" height="6.74" fill="#3002d4" />
<rect x="413.8" y="145.61" width="6.609999999999999" height="6.74" fill="#6a62e2" />
<rect x="420.36" y="145.61" width="6.609999999999999" height="6.74" fill="#e41212" />
<rect x="426.92" y="145.61" width="6.609999999999999" height="6.74" fill="#ef8088" />
<rect x="433.48" y="145.61" width="6.609999999999999" height="6.74" fill="#ebe4f6" />
<rect x="440.04" y="145.61" width="6.609999999999999" height="6.74" fill="#4204bc" />
<rect x="413.8" y="152.3" width="6.609999999999999" height="6.74" fill="#ebe4f6" />
<rect x="420.36" y="152.3" width="6.609999999999999" height="6.74" fill="#e41212" />
<rect x="426.92" y="152.3" width="6.609999999999999" height="6.74" fill="#6a62e2" />
<rect x="433.48" y="152.3" width="6.609999999999999" height="6.74" fill="#3002d4" />
<rect x="440.04" y="152.3" width="6.609999999999999" height="6.74" fill="#4204bc" />
<rect x="413.8" y="158.99" width="6.609999999999999" height="6.74" fill="#6a62e2" />
<rect x="420.36" y="158.99" width="6.609999999999999" height="6.74" fill="#e41212" />
<rect x="426.92" y="158.99" width="6.609999999999999" height="6.74" fill="#c4bcf0" />
<rect x="433.48" y="158.99" width="6.609999999999999" height="6.74" fill="#6a62e2" />
<rect x="440.04" y="158.99" width="6.609999999999999" height="6.74" fill="#4204bc" />
<rect x="413.8" y="165.68" width="6.609999999999999" height="6.74" fill="#e41212" />
<rect x="420.36" y="165.68" width="6.609999999999999" height="6.74" fill="#ec4048" />
<rect x="426.92" y="165.68" width="6.609999999999999" height="6.74" fill="#ebe4f6" />
<rect x="433.48" y="165.68" width="6.609999999999999" height="6.74" fill="#3002d4" />
<rect x="440.04" y="165.68" width="6.609999999999999" height="6.74" fill="#4204bc" />
<rect x="413.8" y="172.37" width="6.609999999999999" height="6.74" fill="#ef8088" />
<rect x="420.36" y="172.37" width="6.609999999999999" height="6.74" fill="#e41212" />
<rect x="426.92" y="172.37" width="6.609999999999999" height="6.74" fill="#3002d4" />
<rect x="433.48" y="172.37" width="6.609999999999999" height="6.74" fill="#8c8cf0" />
<rect x="440.04" y="172.37" width="6.609999999999999" height="6.74" fill="#4204bc" />
<rect x="413.8" y="179.06" width="6.609999999999999" height="6.74" fill="#ef8088" />
<rect x="420.36" y="179.06" width="6.609999999999999" height="6.74" fill="#e41212" />
<rect x="426.92" y="179.06" width="6.609999999999999" height="6.74" fill="#3002d4" />
<rect x="433.48" y="179.06" width="6.609999999999999" height="6.74" fill="#6a62e2" />
<rect x="440.04" y="179.06" width="6.609999999999999" height="6.74" fill="#4204bc" />
<line x1="413.8" y1="51.95" x2="413.8" y2="185.75" stroke="#280014" stroke-width="1.1" opacity="0.75"/>
<line x1="420.36" y1="51.95" x2="420.36" y2="185.75" stroke="#280014" stroke-width="0.85" opacity="0.75"/>
<line x1="426.92" y1="51.95" x2="426.92" y2="185.75" stroke="#280014" stroke-width="0.85" opacity="0.75"/>
<line x1="433.48" y1="51.95" x2="433.48" y2="185.75" stroke="#280014" stroke-width="0.85" opacity="0.75"/>
<line x1="440.04" y1="51.95" x2="440.04" y2="185.75" stroke="#280014" stroke-width="0.85" opacity="0.75"/>
<line x1="446.6" y1="51.95" x2="446.6" y2="185.75" stroke="#280014" stroke-width="0.85" opacity="0.75"/>
<line x1="413.8" y1="51.95" x2="446.6" y2="51.95" stroke="#280014" stroke-width="0.85" opacity="0.75"/>
<line x1="413.8" y1="58.64" x2="446.6" y2="58.64" stroke="#280014" stroke-width="0.85" opacity="0.75"/>
<line x1="413.8" y1="65.33" x2="446.6" y2="65.33" stroke="#280014" stroke-width="0.85" opacity="0.75"/>
<line x1="413.8" y1="72.02" x2="446.6" y2="72.02" stroke="#280014" stroke-width="0.85" opacity="0.75"/>
<line x1="413.8" y1="78.71" x2="446.6" y2="78.71" stroke="#280014" stroke-width="0.85" opacity="0.75"/>
<line x1="413.8" y1="85.4" x2="446.6" y2="85.4" stroke="#280014" stroke-width="0.85" opacity="0.75"/>
<line x1="413.8" y1="92.09" x2="446.6" y2="92.09" stroke="#280014" stroke-width="0.85" opacity="0.75"/>
<line x1="413.8" y1="98.78" x2="446.6" y2="98.78" stroke="#280014" stroke-width="0.85" opacity="0.75"/>
<line x1="413.8" y1="105.47" x2="446.6" y2="105.47" stroke="#280014" stroke-width="0.85" opacity="0.75"/>
<line x1="413.8" y1="112.16" x2="446.6" y2="112.16" stroke="#280014" stroke-width="0.85" opacity="0.75"/>
<line x1="413.8" y1="118.85" x2="446.6" y2="118.85" stroke="#280014" stroke-width="0.85" opacity="0.75"/>
<line x1="413.8" y1="125.54" x2="446.6" y2="125.54" stroke="#280014" stroke-width="0.85" opacity="0.75"/>
<line x1="413.8" y1="132.23" x2="446.6" y2="132.23" stroke="#280014" stroke-width="0.85" opacity="0.75"/>
<line x1="413.8" y1="138.92" x2="446.6" y2="138.92" stroke="#280014" stroke-width="0.85" opacity="0.75"/>
<line x1="413.8" y1="145.61" x2="446.6" y2="145.61" stroke="#280014" stroke-width="0.85" opacity="0.75"/>
<line x1="413.8" y1="152.3" x2="446.6" y2="152.3" stroke="#280014" stroke-width="0.85" opacity="0.75"/>
<line x1="413.8" y1="158.99" x2="446.6" y2="158.99" stroke="#280014" stroke-width="0.85" opacity="0.75"/>
<line x1="413.8" y1="165.68" x2="446.6" y2="165.68" stroke="#280014" stroke-width="0.85" opacity="0.75"/>
<line x1="413.8" y1="172.37" x2="446.6" y2="172.37" stroke="#280014" stroke-width="0.85" opacity="0.75"/>
<line x1="413.8" y1="179.06" x2="446.6" y2="179.06" stroke="#280014" stroke-width="0.85" opacity="0.75"/>
<line x1="413.8" y1="185.75" x2="446.6" y2="185.75" stroke="#280014" stroke-width="0.85" opacity="0.75"/>
<rect x="446.6" y="51.95" width="42.69999999999999" height="133.8" fill="#fff" stroke="#222" stroke-width="0.9"/>
<line x1="446.6" y1="58.64" x2="488.1" y2="58.64" stroke="#2a2a2a" stroke-width="0.8" />
<text x="451.5" y="58.34" font-family="Liberation Serif" font-size="5.3" font-weight="bold" fill="#1a1a1a" text-anchor="start" >LOX</text>
<line x1="446.6" y1="65.33" x2="488.1" y2="65.33" stroke="#2a2a2a" stroke-width="0.8" />
<text x="451.5" y="65.03" font-family="Liberation Serif" font-size="5.3" font-weight="bold" fill="#1a1a1a" text-anchor="start" >FBLN1</text>
<line x1="446.6" y1="72.02" x2="488.1" y2="72.02" stroke="#2a2a2a" stroke-width="0.8" />
<text x="451.5" y="71.72" font-family="Liberation Serif" font-size="5.3" font-weight="bold" fill="#1a1a1a" text-anchor="start" >CXCL16</text>
<line x1="446.6" y1="78.71" x2="488.1" y2="78.71" stroke="#2a2a2a" stroke-width="0.8" />
<text x="451.5" y="78.41" font-family="Liberation Serif" font-size="5.3" font-weight="bold" fill="#1a1a1a" text-anchor="start" >FOSL1</text>
<line x1="446.6" y1="85.4" x2="488.1" y2="85.4" stroke="#2a2a2a" stroke-width="0.8" />
<text x="451.5" y="85.1" font-family="Liberation Serif" font-size="5.3" font-weight="bold" fill="#1a1a1a" text-anchor="start" >DPYD</text>
<line x1="446.6" y1="92.09" x2="488.1" y2="92.09" stroke="#2a2a2a" stroke-width="0.8" />
<text x="451.5" y="91.79" font-family="Liberation Serif" font-size="5.3" font-weight="bold" fill="#1a1a1a" text-anchor="start" >GYS1</text>
<line x1="446.6" y1="98.78" x2="488.1" y2="98.78" stroke="#2a2a2a" stroke-width="0.8" />
<text x="451.5" y="98.48" font-family="Liberation Serif" font-size="5.3" font-weight="bold" fill="#1a1a1a" text-anchor="start" >ALOX12</text>
<line x1="446.6" y1="105.47" x2="488.1" y2="105.47" stroke="#2a2a2a" stroke-width="0.8" />
<text x="451.5" y="105.17" font-family="Liberation Serif" font-size="5.3" font-weight="bold" fill="#1a1a1a" text-anchor="start" >BRCC3</text>
<line x1="446.6" y1="112.16" x2="488.1" y2="112.16" stroke="#2a2a2a" stroke-width="0.8" />
<text x="451.5" y="111.86" font-family="Liberation Serif" font-size="5.3" font-weight="bold" fill="#1a1a1a" text-anchor="start" >RASGRP2</text>
<line x1="446.6" y1="118.85" x2="488.1" y2="118.85" stroke="#2a2a2a" stroke-width="0.8" />
<text x="451.5" y="118.55" font-family="Liberation Serif" font-size="5.3" font-weight="bold" fill="#1a1a1a" text-anchor="start" >TIMP1</text>
<line x1="446.6" y1="125.54" x2="488.1" y2="125.54" stroke="#2a2a2a" stroke-width="0.8" />
<text x="451.5" y="125.24" font-family="Liberation Serif" font-size="5.3" font-weight="bold" fill="#1a1a1a" text-anchor="start" >GATA2</text>
<line x1="446.6" y1="132.23" x2="488.1" y2="132.23" stroke="#2a2a2a" stroke-width="0.8" />
<text x="451.5" y="131.93" font-family="Liberation Serif" font-size="5.3" font-weight="bold" fill="#1a1a1a" text-anchor="start" >LAT</text>
<line x1="446.6" y1="138.92" x2="488.1" y2="138.92" stroke="#2a2a2a" stroke-width="0.8" />
<text x="451.5" y="138.62" font-family="Liberation Serif" font-size="5.3" font-weight="bold" fill="#1a1a1a" text-anchor="start" >CLEC1A</text>
<line x1="446.6" y1="145.61" x2="488.1" y2="145.61" stroke="#2a2a2a" stroke-width="0.8" />
<text x="451.5" y="145.31" font-family="Liberation Serif" font-size="5.3" font-weight="bold" fill="#1a1a1a" text-anchor="start" >GSTM1</text>
<line x1="446.6" y1="152.3" x2="488.1" y2="152.3" stroke="#2a2a2a" stroke-width="0.8" />
<text x="451.5" y="152.0" font-family="Liberation Serif" font-size="5.3" font-weight="bold" fill="#1a1a1a" text-anchor="start" >PTPRJ</text>
<line x1="446.6" y1="158.99" x2="488.1" y2="158.99" stroke="#2a2a2a" stroke-width="0.8" />
<text x="451.5" y="158.69" font-family="Liberation Serif" font-size="5.3" font-weight="bold" fill="#1a1a1a" text-anchor="start" >TRPC6</text>
<line x1="446.6" y1="165.68" x2="488.1" y2="165.68" stroke="#2a2a2a" stroke-width="0.8" />
<text x="451.5" y="165.38" font-family="Liberation Serif" font-size="5.3" font-weight="bold" fill="#1a1a1a" text-anchor="start" >PLAUR</text>
<line x1="446.6" y1="172.37" x2="488.1" y2="172.37" stroke="#2a2a2a" stroke-width="0.8" />
<text x="451.5" y="172.07" font-family="Liberation Serif" font-size="5.3" font-weight="bold" fill="#1a1a1a" text-anchor="start" >ATOX1</text>
<line x1="446.6" y1="179.06" x2="488.1" y2="179.06" stroke="#2a2a2a" stroke-width="0.8" />
<text x="451.5" y="178.76" font-family="Liberation Serif" font-size="5.3" font-weight="bold" fill="#1a1a1a" text-anchor="start" >MPO</text>
<text x="451.5" y="185.45" font-family="Liberation Serif" font-size="5.3" font-weight="bold" fill="#1a1a1a" text-anchor="start" >SLC2A1</text>
<text transform="translate(421.0,39.0) rotate(-65)" font-family="Liberation Sans" font-size="6.6" font-weight="bold" fill="#111" stroke="#111" stroke-width="0.15" textLength="38.5" lengthAdjust="spacingAndGlyphs">Early erythroid</text>
<text transform="translate(438.0,39.0) rotate(-63.5)" font-family="Liberation Sans" font-size="6.6" font-weight="bold" fill="#111" stroke="#111" stroke-width="0.15" textLength="37.5" lengthAdjust="spacingAndGlyphs">Late erythroid</text>
<path d="M413.9,47.8 L413.9,45.2 Q413.9,43.5 415.6,43.5 L419,43.5 Q420.3,43.5 420.3,40.3 Q420.3,43.5 421.6,43.5 L425.2,43.5 Q426.9,43.5 426.9,45.2 L426.9,47.8" fill="none" stroke="#222" stroke-width="0.65"/>
<path d="M426.9,47.8 L426.9,45.2 Q426.9,43.5 428.6,43.5 L435.3,43.5 Q436.6,43.5 436.6,40.3 Q436.6,43.5 437.9,43.5 L444.8,43.5 Q446.5,43.5 446.5,45.2 L446.5,47.8" fill="none" stroke="#222" stroke-width="0.65"/>
<line x1="498.5" y1="122.2" x2="516.2" y2="122.2" stroke="#222" stroke-width="0.75" />
<path d="M502.8,119.1 L498.2,122.2 L502.8,125.3" fill="none" stroke="#222" stroke-width="0.75"/>
<text x="21.2" y="341.3" font-family="Liberation Sans" font-size="6.5" font-weight="bold" fill="#333" text-anchor="end" >0</text>
<line x1="26.8" y1="324.69" x2="162" y2="324.69" stroke="#bdbdbd" stroke-width="0.8" />
<text x="21.2" y="327.69" font-family="Liberation Sans" font-size="6.5" font-weight="bold" fill="#333" text-anchor="end" >0.1</text>
<line x1="26.8" y1="311.08" x2="162" y2="311.08" stroke="#bdbdbd" stroke-width="0.8" />
<text x="21.2" y="314.08" font-family="Liberation Sans" font-size="6.5" font-weight="bold" fill="#333" text-anchor="end" >0.2</text>
<line x1="26.8" y1="297.47" x2="162" y2="297.47" stroke="#bdbdbd" stroke-width="0.8" />
<text x="21.2" y="300.47" font-family="Liberation Sans" font-size="6.5" font-weight="bold" fill="#333" text-anchor="end" >0.3</text>
<line x1="26.8" y1="283.86" x2="162" y2="283.86" stroke="#bdbdbd" stroke-width="0.8" />
<text x="21.2" y="286.86" font-family="Liberation Sans" font-size="6.5" font-weight="bold" fill="#333" text-anchor="end" >0.4</text>
<line x1="26.8" y1="270.25" x2="162" y2="270.25" stroke="#bdbdbd" stroke-width="0.8" />
<text x="21.2" y="273.25" font-family="Liberation Sans" font-size="6.5" font-weight="bold" fill="#333" text-anchor="end" >0.5</text>
<line x1="26.8" y1="256.64" x2="105.5" y2="256.64" stroke="#bdbdbd" stroke-width="0.8" />
<text x="21.2" y="259.64" font-family="Liberation Sans" font-size="6.5" font-weight="bold" fill="#333" text-anchor="end" >0.6</text>
<line x1="26.8" y1="243.03" x2="105.5" y2="243.03" stroke="#bdbdbd" stroke-width="0.8" />
<text x="21.2" y="246.03" font-family="Liberation Sans" font-size="6.5" font-weight="bold" fill="#333" text-anchor="end" >0.7</text>
<line x1="26.8" y1="229.42" x2="105.5" y2="229.42" stroke="#bdbdbd" stroke-width="0.8" />
<text x="21.2" y="232.42" font-family="Liberation Sans" font-size="6.5" font-weight="bold" fill="#333" text-anchor="end" >0.8</text>
<line x1="26.8" y1="215.81" x2="105.5" y2="215.81" stroke="#bdbdbd" stroke-width="0.8" />
<text x="21.2" y="218.81" font-family="Liberation Sans" font-size="6.5" font-weight="bold" fill="#333" text-anchor="end" >0.9</text>
<line x1="26.8" y1="202.2" x2="105.5" y2="202.2" stroke="#bdbdbd" stroke-width="0.8" />
<text x="21.2" y="205.2" font-family="Liberation Sans" font-size="6.5" font-weight="bold" fill="#333" text-anchor="end" >1</text>
<line x1="29.1" y1="202.20000000000002" x2="29.1" y2="340.90000000000003" stroke="#8a8a8a" stroke-width="0.9" />
<line x1="26.8" y1="338.3" x2="162" y2="338.3" stroke="#8a8a8a" stroke-width="0.9" />
<line x1="95.2" y1="338.3" x2="95.2" y2="340.90000000000003" stroke="#8a8a8a" stroke-width="0.9" />
<line x1="162" y1="338.3" x2="162" y2="340.90000000000003" stroke="#8a8a8a" stroke-width="0.9" />
<rect x="38.1" y="320.61" width="11.95" height="17.69" fill="#c3c3c3" />
<line x1="44.075" y1="327.41200000000003" x2="44.075" y2="313.1215" stroke="#111" stroke-width="0.7" />
<line x1="42.475" y1="313.1215" x2="45.675000000000004" y2="313.1215" stroke="#111" stroke-width="0.7" />
<line x1="42.475" y1="327.41200000000003" x2="45.675000000000004" y2="327.41200000000003" stroke="#111" stroke-width="0.7" />
<rect x="50.05" y="277.74" width="11.95" height="60.56" fill="#8e8e8e" />
<line x1="56.025" y1="283.86" x2="56.025" y2="270.25" stroke="#111" stroke-width="0.7" />
<line x1="54.425" y1="270.25" x2="57.625" y2="270.25" stroke="#111" stroke-width="0.7" />
<line x1="54.425" y1="283.86" x2="57.625" y2="283.86" stroke="#111" stroke-width="0.7" />
<rect x="62.0" y="270.25" width="11.95" height="68.05" fill="#6a6a6a" />
<line x1="67.975" y1="293.387" x2="67.975" y2="247.113" stroke="#111" stroke-width="0.7" />
<line x1="66.375" y1="247.113" x2="69.57499999999999" y2="247.113" stroke="#111" stroke-width="0.7" />
<line x1="66.375" y1="293.387" x2="69.57499999999999" y2="293.387" stroke="#111" stroke-width="0.7" />
<rect x="73.95" y="245.75" width="11.95" height="92.55" fill="#000000" />
<line x1="79.92499999999998" y1="245.752" x2="79.92499999999998" y2="221.9345" stroke="#111" stroke-width="0.7" />
<line x1="78.32499999999999" y1="221.9345" x2="81.52499999999998" y2="221.9345" stroke="#111" stroke-width="0.7" />
<rect x="104.5" y="279.78" width="11.95" height="58.52" fill="#c3c3c3" />
<line x1="110.475" y1="282.499" x2="110.475" y2="276.3745" stroke="#111" stroke-width="0.7" />
<line x1="108.875" y1="276.3745" x2="112.07499999999999" y2="276.3745" stroke="#111" stroke-width="0.7" />
<line x1="108.875" y1="282.499" x2="112.07499999999999" y2="282.499" stroke="#111" stroke-width="0.7" />
<rect x="116.45" y="283.86" width="11.95" height="54.44" fill="#8e8e8e" />
<line x1="122.425" y1="291.3455" x2="122.425" y2="276.3745" stroke="#111" stroke-width="0.7" />
<line x1="120.825" y1="276.3745" x2="124.02499999999999" y2="276.3745" stroke="#111" stroke-width="0.7" />
<line x1="120.825" y1="291.3455" x2="124.02499999999999" y2="291.3455" stroke="#111" stroke-width="0.7" />
<rect x="128.4" y="317.2" width="11.95" height="21.1" fill="#6a6a6a" />
<line x1="134.375" y1="324.0095" x2="134.375" y2="311.08000000000004" stroke="#111" stroke-width="0.7" />
<line x1="132.775" y1="311.08000000000004" x2="135.975" y2="311.08000000000004" stroke="#111" stroke-width="0.7" />
<line x1="132.775" y1="324.0095" x2="135.975" y2="324.0095" stroke="#111" stroke-width="0.7" />
<rect x="140.35" y="324.69" width="11.95" height="13.61" fill="#000000" />
<text x="45.0" y="356.2" font-family="Liberation Sans" font-size="8.6" font-weight="bold" fill="#111" text-anchor="start" textLength="33.9" lengthAdjust="spacingAndGlyphs" >mGATA2</text>
<text x="116.6" y="356.2" font-family="Liberation Sans" font-size="8.6" font-weight="bold" fill="#111" text-anchor="start" textLength="24.2" lengthAdjust="spacingAndGlyphs" >mMYB</text>
<text transform="translate(8.3,269.3) rotate(-90)" font-family="Liberation Sans" font-size="8.4" font-weight="bold" fill="#111" text-anchor="middle" textLength="63.5" lengthAdjust="spacingAndGlyphs">Expression level</text>
<rect x="111.0" y="204.70000000000002" width="3.4" height="3.5" fill="#c3c3c3" />
<text x="117.3" y="208.8" font-family="Liberation Sans" font-size="6.3" font-weight="bold" fill="#222" text-anchor="start" textLength="25.9" lengthAdjust="spacingAndGlyphs" >Wt male</text>
<rect x="111.0" y="222.1" width="3.4" height="3.5" fill="#8e8e8e" />
<text x="117.3" y="226.2" font-family="Liberation Sans" font-size="6.3" font-weight="bold" fill="#222" text-anchor="start" textLength="51.2" lengthAdjust="spacingAndGlyphs" >Wt/Gata1s male</text>
<rect x="111.0" y="239.70000000000002" width="3.4" height="3.5" fill="#6a6a6a" />
<text x="117.3" y="243.8" font-family="Liberation Sans" font-size="6.3" font-weight="bold" fill="#222" text-anchor="start" textLength="38.2" lengthAdjust="spacingAndGlyphs" >Tg ERG male</text>
<rect x="111.0" y="257.2" width="3.4" height="3.5" fill="#000" />
<text x="117.3" y="261.3" font-family="Liberation Sans" font-size="6.3" font-weight="bold" fill="#222" text-anchor="start" textLength="54.8" lengthAdjust="spacingAndGlyphs" >ERG/Gata1s male</text>
<text x="219.6" y="210.5" font-family="Liberation Sans" font-size="6.6" font-weight="bold" fill="#151515" text-anchor="start" textLength="18.2" lengthAdjust="spacingAndGlyphs" stroke="#151515" stroke-width="0.32">G1ME-</text>
<text x="221.5" y="217.8" font-family="Liberation Sans" font-size="6.6" font-weight="bold" fill="#151515" text-anchor="start" textLength="16.5" lengthAdjust="spacingAndGlyphs" stroke="#151515" stroke-width="0.32">MigR1</text>
<text x="244.2" y="211.2" font-family="Liberation Sans" font-size="6.6" font-weight="bold" fill="#151515" text-anchor="start" textLength="17.7" lengthAdjust="spacingAndGlyphs" stroke="#151515" stroke-width="0.32">G1ME-</text>
<text x="247.3" y="218.2" font-family="Liberation Sans" font-size="6.6" font-weight="bold" fill="#151515" text-anchor="start" textLength="16.2" lengthAdjust="spacingAndGlyphs" stroke="#151515" stroke-width="0.32">Gata1</text>
<text x="269.2" y="209.7" font-family="Liberation Sans" font-size="6.6" font-weight="bold" fill="#151515" text-anchor="start" textLength="17.8" lengthAdjust="spacingAndGlyphs" stroke="#151515" stroke-width="0.32">G1ME-</text>
<text x="269.2" y="217.1" font-family="Liberation Sans" font-size="6.6" font-weight="bold" fill="#151515" text-anchor="start" textLength="19.6" lengthAdjust="spacingAndGlyphs" stroke="#151515" stroke-width="0.32">Gata1s</text>
<text x="185.7" y="239.1" font-family="Liberation Sans" font-size="6.6" font-weight="bold" fill="#111" text-anchor="start" textLength="29.7" lengthAdjust="spacingAndGlyphs" stroke="#151515" stroke-width="0.32">αGATA2</text>
<text x="193.2" y="267.0" font-family="Liberation Sans" font-size="6.6" font-weight="bold" fill="#111" text-anchor="start" textLength="15.1" lengthAdjust="spacingAndGlyphs" stroke="#151515" stroke-width="0.32">αHA</text>
<text x="182.0" y="293.0" font-family="Liberation Sans" font-size="6.6" font-weight="bold" fill="#111" text-anchor="start" textLength="26.3" lengthAdjust="spacingAndGlyphs" stroke="#151515" stroke-width="0.32">αHSC70</text>
<defs><filter id="bl" x="-10%" y="-30%" width="120%" height="160%"><feGaussianBlur stdDeviation="0.45"/></filter><filter id="bl2" x="-10%" y="-30%" width="120%" height="160%"><feGaussianBlur stdDeviation="0.8"/></filter><linearGradient id="b1" x1="0" x2="1"><stop offset="0" stop-color="#dedede"/><stop offset="0.3" stop-color="#e6e6e6"/><stop offset="0.45" stop-color="#f2f2f2"/><stop offset="0.65" stop-color="#ececec"/><stop offset="1" stop-color="#e2e2e2"/></linearGradient><linearGradient id="b3" x1="0" y1="0" x2="0" y2="1"><stop offset="0" stop-color="#6c6c6c"/><stop offset="0.3" stop-color="#4a4a4a"/><stop offset="0.45" stop-color="#1c1c1c"/><stop offset="1" stop-color="#080808"/></linearGradient></defs>
<rect x="217.1" y="223.3" width="74.6" height="27.9" fill="url(#b1)" />
<g filter="url(#bl)">
<path d="M217.4,232.8 Q230,233.2 243.4,235.3 L243.4,238.0 Q230,236.6 217.4,236.6 Z" fill="#161616"/>
<path d="M217.4,237 L243.4,238.2 L243.4,240 L217.4,239.6 Z" fill="#a8a8a8"/>
<path d="M217.4,239.6 Q230,240.2 243.4,241.3 L243.4,243.6 Q230,243.2 217.4,243.0 Z" fill="#262626"/>
<path d="M268.6,237.0 Q280,236.6 291.2,235.8 L291.2,239.0 Q280,239.2 268.6,239.9 Z" fill="#2e2e2e"/>
<path d="M268.6,244.2 Q280,243.9 291.2,243.6 L291.2,245.6 Q280,245.8 268.6,246.4 Z" fill="#767676"/>
<path filter="url(#bl2)" d="M246,240.5 Q255,239.5 265,241 L265,245 Q255,244.5 246,245.5 Z" fill="#e4e4e4"/>
</g>
<defs><linearGradient id="b2" x1="0" x2="1"><stop offset="0" stop-color="#dcdcdc"/><stop offset="0.33" stop-color="#e2e2e2"/><stop offset="0.335" stop-color="#ececec"/><stop offset="1" stop-color="#e8e8e8"/></linearGradient></defs>
<rect x="217.1" y="254.3" width="74.6" height="21.2" fill="url(#b2)" />
<g filter="url(#bl)">
<rect x="263.0" y="254.3" width="28.7" height="21.2" fill="url(#b3)" />
<path d="M263,254.3 L268,254.3 Q264.5,258 263,263 Z" fill="#909090"/>
<path d="M263,266 Q263.5,263.5 268,263.2 L291.7,263 L291.7,275.5 L263,275.5 Z" fill="#070707"/>
<path d="M242.6,256.3 L263.2,256.5 L263.2,258.8 Q252,262.2 242.6,258.6 Z" fill="#464646"/>
</g>
<rect x="217.3" y="281.5" width="74.4" height="18.0" fill="#8e8e8e" />
<path filter="url(#bl)" d="M224.5,289 Q224.8,286.5 229,286.3 L240,286 Q244,284.6 247,285.6 L262,285.2 Q265,283.8 268,285.2 L280,284.8 Q284,283 286.5,283.4 Q288,284 287.8,287 L287.6,292.5 Q287,295 282,294.8 L270,295.4 Q262,297.4 255,296.6 L240,296.8 Q230,296.8 226,295.4 Q224.4,294.5 224.5,292 Z" fill="#090909"/>
<text x="326.8" y="302.8" font-family="Liberation Sans" font-size="6.5" font-weight="bold" fill="#333" text-anchor="end" >0</text>
<text x="326.8" y="290.38" font-family="Liberation Sans" font-size="6.5" font-weight="bold" fill="#333" text-anchor="end" >0.5</text>
<text x="326.8" y="277.95" font-family="Liberation Sans" font-size="6.5" font-weight="bold" fill="#333" text-anchor="end" >1</text>
<text x="326.8" y="265.52" font-family="Liberation Sans" font-size="6.5" font-weight="bold" fill="#333" text-anchor="end" >1.5</text>
<text x="326.8" y="253.1" font-family="Liberation Sans" font-size="6.5" font-weight="bold" fill="#333" text-anchor="end" >2</text>
<text x="326.8" y="240.68" font-family="Liberation Sans" font-size="6.5" font-weight="bold" fill="#333" text-anchor="end" >2.5</text>
<text x="326.8" y="228.25" font-family="Liberation Sans" font-size="6.5" font-weight="bold" fill="#333" text-anchor="end" >3</text>
<text x="326.8" y="215.82" font-family="Liberation Sans" font-size="6.5" font-weight="bold" fill="#333" text-anchor="end" >3.5</text>
<line x1="334.2" y1="212.825" x2="334.2" y2="299.8" stroke="#8a8a8a" stroke-width="0.9" />
<line x1="334.2" y1="299.8" x2="363.5" y2="299.8" stroke="#8a8a8a" stroke-width="0.9" />
<rect x="340.8" y="226.49" width="15.5" height="73.31" fill="#000" />
<line x1="348.55" y1="226.4925" x2="348.55" y2="219.03750000000002" stroke="#111" stroke-width="0.7" />
<line x1="346.8" y1="219.03750000000002" x2="350.3" y2="219.03750000000002" stroke="#111" stroke-width="0.7" />
<text x="336.2" y="310.9" font-family="Liberation Sans" font-size="6.6" font-weight="bold" fill="#222" text-anchor="start" textLength="19.0" lengthAdjust="spacingAndGlyphs" >GATA2</text>
<text transform="translate(312.6,248.5) rotate(-90)" font-family="Liberation Sans" font-size="6.7" font-weight="bold" fill="#222" text-anchor="middle" textLength="82.8" lengthAdjust="spacingAndGlyphs">Gata1s/Gata1 fold difference</text>
<text x="404.5" y="303.0" font-family="Liberation Sans" font-size="7.0" font-weight="bold" fill="#3a3a3a" text-anchor="end" >0</text>
<line x1="409.2" y1="277.95" x2="512" y2="277.95" stroke="#bdbdbd" stroke-width="0.8" />
<text x="404.5" y="280.45" font-family="Liberation Sans" font-size="7.0" font-weight="bold" fill="#3a3a3a" text-anchor="end" >0.5</text>
<line x1="409.2" y1="255.4" x2="512" y2="255.4" stroke="#bdbdbd" stroke-width="0.8" />
<text x="404.5" y="257.9" font-family="Liberation Sans" font-size="7.0" font-weight="bold" fill="#3a3a3a" text-anchor="end" >1</text>
<line x1="409.2" y1="232.85" x2="512" y2="232.85" stroke="#bdbdbd" stroke-width="0.8" />
<text x="404.5" y="235.35" font-family="Liberation Sans" font-size="7.0" font-weight="bold" fill="#3a3a3a" text-anchor="end" >1.5</text>
<line x1="409.2" y1="210.3" x2="512" y2="210.3" stroke="#bdbdbd" stroke-width="0.8" />
<text x="404.5" y="212.8" font-family="Liberation Sans" font-size="7.0" font-weight="bold" fill="#3a3a3a" text-anchor="end" >2</text>
<line x1="411.3" y1="210.3" x2="411.3" y2="302.9" stroke="#8a8a8a" stroke-width="0.9" />
<line x1="409.2" y1="300.5" x2="512" y2="300.5" stroke="#8a8a8a" stroke-width="0.9" />
<line x1="461.3" y1="300.5" x2="461.3" y2="302.9" stroke="#8a8a8a" stroke-width="0.9" />
<line x1="512" y1="300.5" x2="512" y2="302.9" stroke="#8a8a8a" stroke-width="0.9" />
<rect x="426.2" y="223.83" width="20.1" height="76.67" fill="#000" />
<line x1="436.2" y1="223.82999999999998" x2="436.2" y2="220.22199999999998" stroke="#111" stroke-width="0.7" />
<line x1="434.4" y1="220.22199999999998" x2="438.0" y2="220.22199999999998" stroke="#111" stroke-width="0.7" />
<rect x="476.3" y="254.05" width="20.1" height="46.45" fill="#000" />
<line x1="486.3" y1="254.047" x2="486.3" y2="247.282" stroke="#111" stroke-width="0.7" />
<line x1="484.5" y1="247.282" x2="488.1" y2="247.282" stroke="#111" stroke-width="0.7" />
<text x="436.3" y="313.2" font-family="Liberation Sans" font-size="6.6" font-weight="bold" fill="#222" text-anchor="middle" >GATA1</text>
<text x="486.7" y="313.2" font-family="Liberation Sans" font-size="6.6" font-weight="bold" fill="#222" text-anchor="middle" >GATA1s</text>
<text transform="translate(390.3,246.5) rotate(-90)" font-family="Liberation Sans" font-size="6.7" font-weight="bold" fill="#222" text-anchor="middle" textLength="84.2" lengthAdjust="spacingAndGlyphs">Relative GATA2 repression</text>
<rect x="360.5" y="323.9" width="159.5" height="29.9" fill="#ebebeb" />
<line x1="420.4" y1="323.9" x2="420.4" y2="353.8" stroke="#fafafa" stroke-width="0.9" />
<line x1="456.5" y1="323.9" x2="456.5" y2="353.8" stroke="#f6f6f6" stroke-width="0.6" />
<text x="390.9" y="332.7" font-family="Liberation Sans" font-size="6.6" font-weight="bold" fill="#1a1a1a" text-anchor="middle" textLength="22.8" lengthAdjust="spacingAndGlyphs" >Relative</text>
<text x="390.9" y="341.3" font-family="Liberation Sans" font-size="6.6" font-weight="bold" fill="#1a1a1a" text-anchor="middle" textLength="44.7" lengthAdjust="spacingAndGlyphs" >GATA1/GATA1s</text>
<text x="390.9" y="349.4" font-family="Liberation Sans" font-size="6.6" font-weight="bold" fill="#1a1a1a" text-anchor="middle" textLength="29.5" lengthAdjust="spacingAndGlyphs" >expression</text>
<text x="440.4" y="332.7" font-family="Liberation Sans" font-size="6.6" font-weight="bold" fill="#1a1a1a" text-anchor="middle" textLength="13.0" lengthAdjust="spacingAndGlyphs" >40.4</text>
<text x="440.4" y="341.3" font-family="Liberation Sans" font-size="6.6" font-weight="bold" fill="#1a1a1a" text-anchor="middle" textLength="21.6" lengthAdjust="spacingAndGlyphs" >(+/-4.4)</text>
<text x="487.6" y="332.7" font-family="Liberation Sans" font-size="6.6" font-weight="bold" fill="#1a1a1a" text-anchor="middle" textLength="10.8" lengthAdjust="spacingAndGlyphs" >465</text>
<text x="487.6" y="341.3" font-family="Liberation Sans" font-size="6.6" font-weight="bold" fill="#1a1a1a" text-anchor="middle" textLength="23.8" lengthAdjust="spacingAndGlyphs" >(+/-113)</text>
</svg>
</body></html>
